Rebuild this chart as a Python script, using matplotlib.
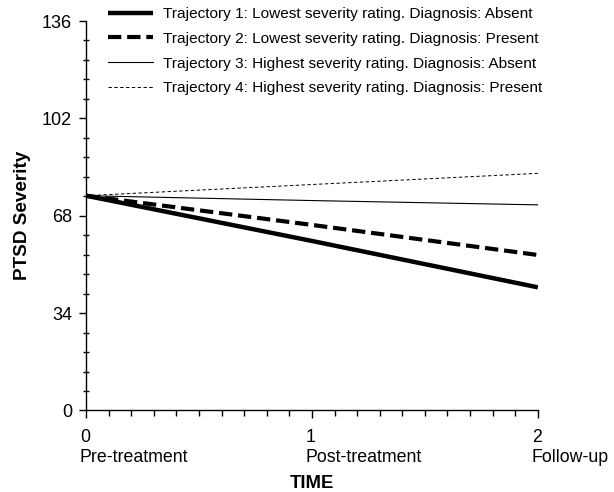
import matplotlib
matplotlib.use("Agg")
import matplotlib.pyplot as plt
import matplotlib.transforms as mtransforms
from matplotlib.ticker import MultipleLocator

plt.rcParams['font.family'] = ['Liberation Sans', 'DejaVu Sans']

# data
time_points = [0, 1, 2]
time_labels = ["0\nPre-treatment", "1\nPost-treatment", "2\nFollow-up"]
traj1 = [75.0, 59.2, 43.0]
traj2 = [75.0, 64.8, 54.3]
traj3 = [75.0, 73.3, 71.8]
traj4 = [75.0, 78.9, 82.8]
labels = [
    "Trajectory 1: Lowest severity rating. Diagnosis: Absent",
    "Trajectory 2: Lowest severity rating. Diagnosis: Present",
    "Trajectory 3: Highest severity rating. Diagnosis: Absent",
    "Trajectory 4: Highest severity rating. Diagnosis: Present",
]
y_ticks = [0, 34, 68, 102, 136]

fig = plt.figure(figsize=(6.14, 4.92), dpi=100)
ax = fig.add_axes([0.140, 0.1657, 0.736, 0.7916])

ax.plot(time_points, traj1, color='black', lw=3.2, solid_capstyle='butt', label=labels[0])
ax.plot(time_points, traj2, color='black', lw=3.0, linestyle=(0, (3.2, 1.4)), dash_capstyle='butt', label=labels[1])
ax.plot(time_points, traj3, color='black', lw=0.8, label=labels[2])
ax.plot(time_points, traj4, color='black', lw=0.7, linestyle=(0, (3.5, 2.5)), label=labels[3])

ax.set_xlim(0, 2)
ax.set_ylim(0, 136)
ax.spines['top'].set_visible(False)
ax.spines['right'].set_visible(False)
for s in ('left', 'bottom'):
    ax.spines[s].set_linewidth(1.0)

ax.set_yticks(y_ticks)
ax.yaxis.set_minor_locator(MultipleLocator(6.8))
ax.set_xticks(time_points)
ax.set_xticklabels(time_labels, ha='left', linespacing=1.2)
ax.xaxis.set_minor_locator(MultipleLocator(0.1))

ax.tick_params(axis='y', which='major', direction='out', length=5, width=1, labelsize=13, pad=5)
ax.tick_params(axis='y', which='minor', direction='inout', length=5, width=1)
ax.tick_params(axis='x', which='major', direction='out', length=6, width=1, labelsize=12.8, pad=7.5)
ax.tick_params(axis='x', which='minor', direction='out', length=4, width=1)

offset = mtransforms.ScaledTranslation(-6 / 100, 0, fig.dpi_scale_trans)
for lbl in ax.get_xticklabels():
    lbl.set_transform(lbl.get_transform() + offset)

ax.set_ylabel("PTSD Severity", fontsize=13.6, fontweight='bold', labelpad=8)
ax.set_xlabel("TIME", fontsize=13.3, fontweight='bold', labelpad=6.5)

ax.legend(loc='upper left', bbox_to_anchor=(108 / 614, 1 - 7 / 492), bbox_transform=fig.transFigure,
          frameon=False, fontsize=11.1, handlelength=2.95, handletextpad=0.64,
          labelspacing=0.7, borderpad=0, borderaxespad=0)

fig.savefig("out.png", dpi=100)
